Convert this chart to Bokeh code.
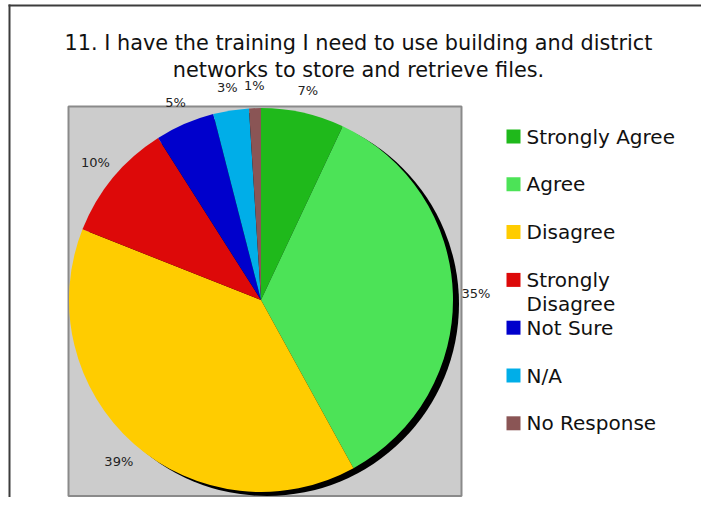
import math
from bokeh.plotting import figure
from bokeh.models import Range1d, ColumnDataSource
from bokeh.core.properties import value
from bokeh.embed import file_html
from bokeh.resources import INLINE

# ---- data ----
categories = ["Strongly Agree", "Agree", "Disagree", "Strongly Disagree",
              "Not Sure", "N/A", "No Response"]
legend_labels = ["Strongly Agree", "Agree", "Disagree", "Strongly\nDisagree",
                 "Not Sure", "N/A", "No Response"]
percent = [7, 35, 39, 10, 5, 3, 1]
colors = ["#1fb91b", "#4ce357", "#ffcc00", "#dd0909", "#0000cc", "#00aee8", "#8a5555"]
title_lines = ["11. I have the training I need to use building and district",
               "networks to store and retrieve files."]

FW, FH = 701, 497
FONT = "DejaVu Sans"


def sy(y):
    # picture y (from top) -> data y
    return FH - y


p = figure(width=FW, height=FH, output_backend="svg", toolbar_location=None,
           x_range=Range1d(0, FW), y_range=Range1d(0, FH),
           min_border=0, outline_line_color=None)
p.axis.visible = False
p.grid.visible = False
p.background_fill_color = "white"
p.border_fill_color = "white"

# outer frame
p.segment(x0=[8, 9], y0=[sy(5), sy(4)], x1=[FW, 9], y1=[sy(5), sy(FH)],
          line_color="#3c3c3c", line_width=2)

# plot area box
p.quad(left=[68], right=[461], top=[sy(106)], bottom=[sy(495.5)],
       fill_color="#cccccc", line_color="#8a8a8a", line_width=2)

# pie geometry
cx, cy, r = 260.5, sy(299.5), 192
total = float(sum(percent))
starts, ends, mids = [], [], []
c = 0.0
for v in percent:
    c0 = c / total
    c += v
    c1 = c / total
    starts.append(math.pi / 2 - 2 * math.pi * c0)
    ends.append(math.pi / 2 - 2 * math.pi * c1)
    mids.append(math.pi / 2 - 2 * math.pi * (c0 + c1) / 2)

# shadow
p.circle(x=[cx + 6], y=[cy - 4], radius=r, fill_color="black", line_color=None)

src = ColumnDataSource(dict(start=starts, end=ends, color=colors, cat=categories))
p.wedge(x=cx, y=cy, radius=r, start_angle="start", end_angle="end",
        direction="clock", fill_color="color", line_color=None, source=src)

# percentage labels
lr = 215
lx = [cx + lr * math.cos(a) for a in mids]
ly = [cy + lr * math.sin(a) for a in mids]
ltxt = ["%d%%" % v for v in percent]
p.text(x=lx, y=ly, text=ltxt, text_align="center", text_baseline="middle",
       text_font=value(FONT), text_font_size="13px", text_color="#222222")

# title
for i, line in enumerate(title_lines):
    p.text(x=[358], y=[sy(42 + 27 * i)], text=[line], text_align="center",
           text_baseline="middle", text_font=value(FONT), text_font_size="20.8px",
           text_color="#111111")

# legend
lg_x, lg_y0, lg_dy = 506, 136, 47.8
sq = 14
for i, (lab, col) in enumerate(zip(legend_labels, colors)):
    yc = lg_y0 + lg_dy * i
    p.quad(left=[lg_x], right=[lg_x + sq], top=[sy(yc - sq / 2)], bottom=[sy(yc + sq / 2)],
           fill_color=col, line_color=None)
    for k, part in enumerate(lab.split("\n")):
        p.text(x=[lg_x + 20], y=[sy(yc + 24 * k)], text=[part], text_align="left",
               text_baseline="middle", text_font=value(FONT), text_font_size="20px",
               text_color="#111111")

open("out.html", "w").write(file_html(p, INLINE))
